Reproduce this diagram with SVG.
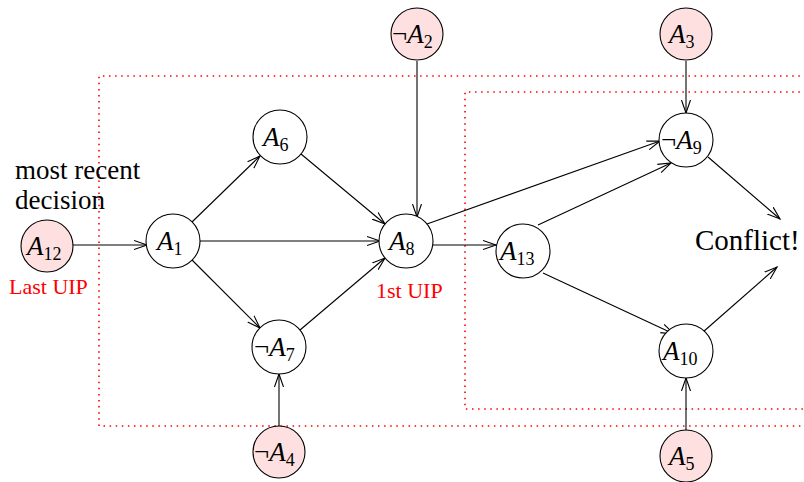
<svg xmlns="http://www.w3.org/2000/svg" width="804" height="482" viewBox="0 0 804 482">
<defs>
<style>
.n{fill:#fff;stroke:#000;stroke-width:1.1}
.p{fill:#ffe0e0;stroke:#000;stroke-width:1.1}
.e{stroke:#000;stroke-width:1.1;fill:none;marker-end:url(#ah)}
.box{fill:none;stroke:#ff0000;stroke-width:1.6;stroke-dasharray:1.5 4.6}
.lab{font-size:27px;fill:#000}
.lab .a{font-style:italic}
.lab .s{font-size:18px}
.txt{font-size:29px;fill:#000}
.txt2{font-size:27px;fill:#000}
.red{font-size:22px;fill:#ff0000}
</style>
<marker id="ah" markerUnits="userSpaceOnUse" markerWidth="16" markerHeight="12" viewBox="-13 -6 16 12" refX="0" refY="0" orient="auto">
<path d="M-13,-4.5 L0,0 L-13,4.5" fill="none" stroke="#000" stroke-width="1.1"/>
</marker>
</defs>
<rect width="804" height="482" fill="#fff"/>
<g id="boxes">
<path class="box" d="M812,76 H99 V426 H812"/>
<path class="box" d="M812,92 H465 V409 H812"/>
</g>
<g id="connectors">
<line class="e" x1="73" y1="245" x2="147" y2="245"/>
<line class="e" x1="192" y1="222" x2="260" y2="156"/>
<line class="e" x1="200" y1="241" x2="380" y2="241"/>
<line class="e" x1="192" y1="260" x2="260" y2="328"/>
<line class="e" x1="301" y1="154" x2="385" y2="224"/>
<line class="e" x1="300" y1="330" x2="385" y2="258"/>
<line class="e" x1="417" y1="61" x2="417" y2="217"/>
<line class="e" x1="279" y1="426" x2="279" y2="374"/>
<line class="e" x1="432" y1="245" x2="496" y2="245"/>
<line class="e" x1="427" y1="224" x2="660" y2="141"/>
<line class="e" x1="538" y1="225" x2="671" y2="163"/>
<line class="e" x1="543" y1="273" x2="674" y2="334"/>
<line class="e" x1="686" y1="61" x2="686" y2="113"/>
<line class="e" x1="686" y1="430" x2="686" y2="378"/>
<line class="e" x1="708" y1="157" x2="780" y2="219"/>
<line class="e" x1="703" y1="332" x2="777" y2="267"/>
</g>
<g font-family="Liberation Serif, Times New Roman, serif">
<g id="n-A12"><circle class="p" cx="47" cy="246" r="26"/><text class="lab" x="27" y="255"><tspan class="a">A</tspan><tspan class="s" dy="5">12</tspan></text></g>
<g id="n-A1"><circle class="n" cx="173" cy="241" r="27"/><text class="lab" x="157" y="250"><tspan class="a">A</tspan><tspan class="s" dy="5">1</tspan></text></g>
<g id="n-A6"><circle class="n" cx="280" cy="137" r="27"/><text class="lab" x="263" y="146"><tspan class="a">A</tspan><tspan class="s" dy="5">6</tspan></text></g>
<g id="n-A8"><circle class="n" cx="406" cy="241" r="27"/><text class="lab" x="389" y="250"><tspan class="a">A</tspan><tspan class="s" dy="5">8</tspan></text></g>
<g id="n-A7"><circle class="n" cx="279" cy="347" r="27"/><text class="lab" x="254" y="356">¬<tspan class="a">A</tspan><tspan class="s" dy="5">7</tspan></text></g>
<g id="n-A4"><circle class="p" cx="279" cy="452" r="26"/><text class="lab" x="254" y="461">¬<tspan class="a">A</tspan><tspan class="s" dy="5">4</tspan></text></g>
<g id="n-A2"><circle class="p" cx="417" cy="34" r="26"/><text class="lab" x="392" y="43">¬<tspan class="a">A</tspan><tspan class="s" dy="5">2</tspan></text></g>
<g id="n-A13"><circle class="n" cx="523" cy="251" r="27"/><text class="lab" x="500" y="260"><tspan class="a">A</tspan><tspan class="s" dy="5">13</tspan></text></g>
<g id="n-A3"><circle class="p" cx="686" cy="34" r="26"/><text class="lab" x="669" y="43"><tspan class="a">A</tspan><tspan class="s" dy="5">3</tspan></text></g>
<g id="n-A9"><circle class="n" cx="686" cy="140" r="27"/><text class="lab" x="661" y="149">¬<tspan class="a">A</tspan><tspan class="s" dy="5">9</tspan></text></g>
<g id="n-A10"><circle class="n" cx="686" cy="351" r="27"/><text class="lab" x="663" y="360"><tspan class="a">A</tspan><tspan class="s" dy="5">10</tspan></text></g>
<g id="n-A5"><circle class="p" cx="686" cy="456" r="26"/><text class="lab" x="669" y="465"><tspan class="a">A</tspan><tspan class="s" dy="5">5</tspan></text></g>
<g id="labels">
<text class="txt2" x="15" y="179">most recent</text>
<text class="txt2" x="15" y="209">decision</text>
<text class="txt" x="695" y="250">Conflict!</text>
<text class="red" x="9" y="294">Last UIP</text>
<text class="red" x="376" y="298">1st UIP</text>
</g>
</g>
</svg>
